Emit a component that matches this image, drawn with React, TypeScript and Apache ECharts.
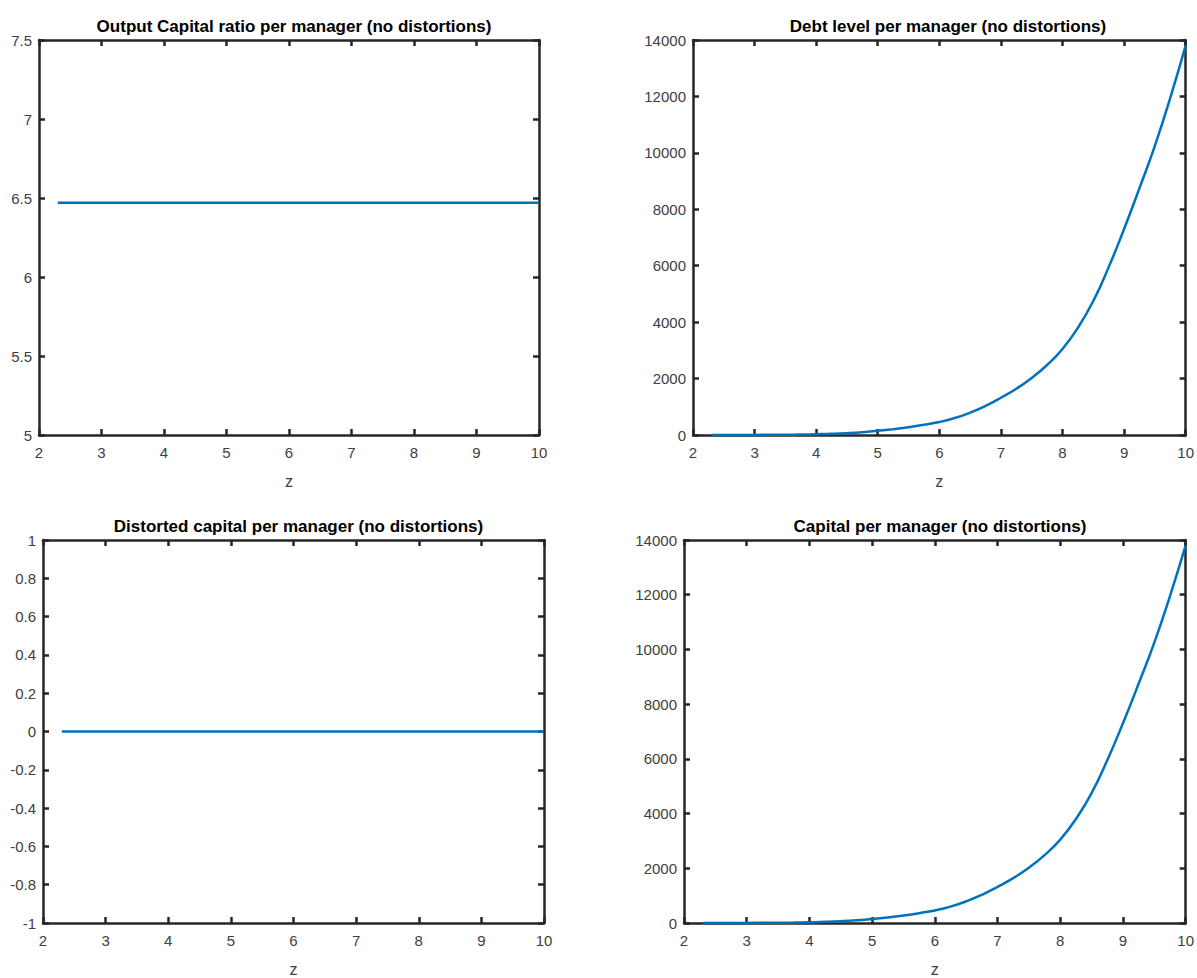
import React, { useEffect, useRef } from "react";
import * as echarts from "echarts";

// z grid (x axis)
const zValues = [2.3, 2.5, 2.75, 3, 3.25, 3.5, 3.75, 4, 4.25, 4.5, 4.75, 5, 5.25, 5.5, 5.75, 6, 6.25, 6.5, 6.75, 7, 7.25, 7.5, 7.75, 8, 8.25, 8.5, 8.75, 9, 9.25, 9.5, 9.75, 10];
// Output capital ratio per manager (constant)
const outputCapitalRatio = zValues.map(() => 6.47);
// Debt level per manager
const debtLevel = [1, 2, 3, 4, 6, 10, 17, 28, 42, 65, 100, 150, 205, 275, 360, 460, 600, 790, 1030, 1320, 1640, 2020, 2480, 3050, 3800, 4750, 5950, 7300, 8750, 10250, 11950, 13800];
// Distorted capital per manager
const distortedCapital = zValues.map(() => 0);
// Capital per manager
const capitalLevel = [1, 2, 3, 4, 6, 10, 17, 28, 42, 65, 100, 150, 205, 275, 360, 460, 600, 790, 1030, 1320, 1640, 2020, 2480, 3050, 3800, 4750, 5950, 7300, 8750, 10250, 11950, 13800];

const titles = [
  "Output Capital ratio per manager (no distortions)",
  "Debt level per manager (no distortions)",
  "Distorted capital per manager (no distortions)",
  "Capital per manager (no distortions)",
];
const xLabel = "z";

const AXIS_COLOR = "#262626";
const LINE_COLOR = "#0072BD";
const LABEL_COLOR = "#404040";
const FONT = "Liberation Sans, Arial, Helvetica, sans-serif";

const grids = [
  { left: 39, top: 40, width: 500, height: 395 },
  { left: 693, top: 40, width: 500, height: 395 },
  { left: 43, top: 540, width: 501, height: 399 },
  { left: 684, top: 540, width: 502, height: 399 },
];
const yRanges = [
  { min: 5, max: 7.5, interval: 0.5 },
  { min: 0, max: 14000, interval: 2000 },
  { min: -1, max: 1, interval: 0.2 },
  { min: 0, max: 14000, interval: 2000 },
];
const seriesData = [outputCapitalRatio, debtLevel, distortedCapital, capitalLevel];

const fmt = (v: number) => String(Math.round(v * 1000) / 1000);

export default function App() {
  const ref = useRef<HTMLDivElement>(null);
  useEffect(() => {
    if (!ref.current) return;
    const chart = echarts.init(ref.current, undefined, { renderer: "svg" });
    const axisLine = { show: true, onZero: false, lineStyle: { color: AXIS_COLOR, width: 2.5 } };
    const axisTick = { show: true, inside: true, length: 6, lineStyle: { color: AXIS_COLOR, width: 2.5 } };
    const xAxes: any[] = [];
    const yAxes: any[] = [];
    const series: any[] = [];
    const titleArr: any[] = [];
    grids.forEach((g, i) => {
      titleArr.push({
        text: titles[i],
        left: g.left + g.width / 2,
        top: g.top - 27,
        textAlign: "center",
        textStyle: { fontFamily: FONT, fontSize: 17, fontWeight: "bold", color: "#000" },
      });
      xAxes.push({
        type: "value",
        gridIndex: i,
        position: "bottom",
        min: 2,
        max: 10,
        interval: 1,
        name: xLabel,
        nameLocation: "middle",
        nameGap: 38,
        nameTextStyle: { fontFamily: FONT, fontSize: 16, color: LABEL_COLOR },
        axisLine,
        axisTick,
        splitLine: { show: false },
        axisLabel: { fontFamily: FONT, fontSize: 15, color: LABEL_COLOR, margin: 10, formatter: fmt },
      });
      xAxes.push({
        type: "value",
        gridIndex: i,
        position: "top",
        min: 2,
        max: 10,
        interval: 1,
        axisLine,
        axisTick,
        splitLine: { show: false },
        axisLabel: { show: false },
      });
      yAxes.push({
        type: "value",
        gridIndex: i,
        position: "left",
        min: yRanges[i].min,
        max: yRanges[i].max,
        interval: yRanges[i].interval,
        axisLine,
        axisTick,
        splitLine: { show: false },
        axisLabel: { fontFamily: FONT, fontSize: 15, color: LABEL_COLOR, margin: 7, formatter: fmt },
      });
      yAxes.push({
        type: "value",
        gridIndex: i,
        position: "right",
        min: yRanges[i].min,
        max: yRanges[i].max,
        interval: yRanges[i].interval,
        axisLine,
        axisTick,
        splitLine: { show: false },
        axisLabel: { show: false },
      });
      series.push({
        type: "line",
        xAxisIndex: i * 2,
        yAxisIndex: i * 2,
        data: zValues.map((z, k) => [z, seriesData[i][k]]),
        showSymbol: false,
        smooth: 0.5,
        lineStyle: { color: LINE_COLOR, width: 2.5 },
        itemStyle: { color: LINE_COLOR },
        clip: false,
      });
    });
    chart.setOption({
      animation: false,
      backgroundColor: "#ffffff",
      title: titleArr,
      grid: grids.map((g) => ({ ...g, containLabel: false })),
      xAxis: xAxes,
      yAxis: yAxes,
      series,
    });
    return () => chart.dispose();
  }, []);
  return (
    <div
      ref={ref}
      style={{ position: "fixed", left: 0, top: 0, width: 1197, height: 978, background: "#fff" }}
    />
  );
}
